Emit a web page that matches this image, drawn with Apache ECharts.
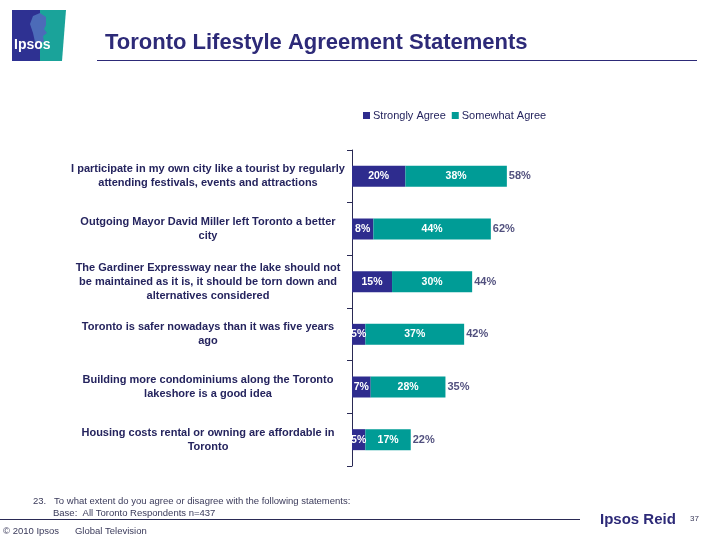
<!DOCTYPE html>
<html>
<head>
<meta charset="utf-8">
<script src="https://cdn.jsdelivr.net/npm/echarts@6/dist/echarts.min.js"></script>
<style>html,body{margin:0;padding:0;background:#fff}#c{width:720px;height:540px}</style>
</head>
<body>
<div id="c"></div>
<script>
var categories = [
  'I participate in my own city like a tourist by regularly\nattending festivals, events and attractions',
  'Outgoing Mayor David Miller left Toronto a better\ncity',
  'The Gardiner Expressway near the lake should not\nbe maintained as it is, it should be torn down and\nalternatives considered',
  'Toronto is safer nowadays than it was five years\nago',
  'Building more condominiums along the Toronto\nlakeshore is a good idea',
  'Housing costs rental or owning are affordable in\nToronto'
];
var stronglyAgree = [20, 8, 15, 5, 7, 5];
var somewhatAgree = [38, 44, 30, 37, 28, 17];
var totalLabels = [58, 62, 44, 42, 35, 22];
var seriesNames = ['Strongly Agree', 'Somewhat Agree'];

var navy = '#2E2C8E';
var teal = '#009C96';
var textNavy = '#25245E';

var chart = echarts.init(document.getElementById('c'));
var totalPos = stronglyAgree.map(function (v, i) { return v + somewhatAgree[i]; });

chart.setOption({
  animation: false,
  backgroundColor: '#fff',
  grid: { left: 352, right: 101, top: 150, bottom: 74 },
  legend: {
    data: seriesNames,
    left: 358, top: 105,
    icon: 'rect', itemWidth: 7, itemHeight: 7, itemGap: 6,
    textStyle: { fontFamily: 'Liberation Sans', fontSize: 11, color: textNavy, padding: [0, 0, 0, -2] }
  },
  xAxis: { type: 'value', min: 0, max: 100, show: false },
  yAxis: {
    type: 'category', inverse: true, data: categories,
    axisLine: { show: true, lineStyle: { color: '#2a2a55', width: 1 } },
    axisTick: { show: true, length: 5, lineStyle: { color: '#2a2a55' } },
    axisLabel: {
      align: 'center', margin: 144,
      fontFamily: 'Liberation Sans', fontSize: 11, fontWeight: 'bold',
      color: textNavy, lineHeight: 14
    }
  },
  series: [
    {
      name: seriesNames[0], type: 'bar', stack: 'a', barWidth: 21,
      itemStyle: { color: navy }, data: stronglyAgree,
      label: { show: true, position: 'inside', color: '#fff', fontFamily: 'Liberation Sans', fontSize: 10.5, fontWeight: 'bold', formatter: '{c}%' }
    },
    {
      name: seriesNames[1], type: 'bar', stack: 'a', barWidth: 21,
      itemStyle: { color: teal }, data: somewhatAgree,
      label: { show: true, position: 'inside', color: '#fff', fontFamily: 'Liberation Sans', fontSize: 10.5, fontWeight: 'bold', formatter: '{c}%' }
    },
    {
      name: 'Total', type: 'scatter', symbolSize: 0, data: totalPos, silent: true,
      label: { show: true, position: 'right', distance: 2, color: textNavy, fontFamily: 'Liberation Sans', fontSize: 11, fontWeight: 'bold',
        formatter: function (p) { return totalLabels[p.dataIndex] + '%'; } }
    }
  ],
  graphic: [
    // logo
    { type: 'polygon', shape: { points: [[12, 10], [40, 10], [40, 61], [12, 61]] }, style: { fill: '#2E3192' } },
    { type: 'polygon', shape: { points: [[40, 10], [66, 10], [62, 61], [40, 61]] }, style: { fill: '#1AA39A' } },
    { type: 'polygon', shape: { points: [[33, 16], [40, 13], [46, 17], [46, 25], [44, 29], [47, 33], [43, 36], [44, 42], [35, 42], [33, 33], [30, 24]] }, style: { fill: '#4C6BB8' } },
    { type: 'text', left: 14, top: 38, style: { text: 'Ipsos', fill: '#fff', font: 'bold 14px "Liberation Sans Narrow", "Liberation Sans"' } },
    // title
    { type: 'text', left: 105, top: 32, style: { text: 'Toronto Lifestyle Agreement Statements', fill: '#2D2A78', font: 'bold 22px "Liberation Sans"' } },
    { type: 'line', shape: { x1: 97, y1: 60.5, x2: 697, y2: 60.5 }, style: { stroke: '#2D2A78', lineWidth: 1 } },
    // footer
    { type: 'text', left: 33, top: 496, style: { text: '23.   To what extent do you agree or disagree with the following statements:', fill: '#3a3a5a', font: '9.5px "Liberation Sans"' } },
    { type: 'text', left: 53, top: 508, style: { text: 'Base:  All Toronto Respondents n=437', fill: '#3a3a5a', font: '9.5px "Liberation Sans"' } },
    { type: 'line', shape: { x1: 0, y1: 519.5, x2: 580, y2: 519.5 }, style: { stroke: '#2a2a55', lineWidth: 1 } },
    { type: 'text', left: 3, top: 526, style: { text: '\u00a9 2010 Ipsos      Global Television', fill: '#3a3a5a', font: '9.5px "Liberation Sans"' } },
    { type: 'text', left: 600, top: 512, style: { text: 'Ipsos Reid', fill: '#2D2A78', font: 'bold 15px "Liberation Sans"' } },
    { type: 'text', left: 690, top: 515, style: { text: '37', fill: '#3a3a5a', font: '8px "Liberation Sans"' } }
  ]
});
</script>
</body>
</html>
